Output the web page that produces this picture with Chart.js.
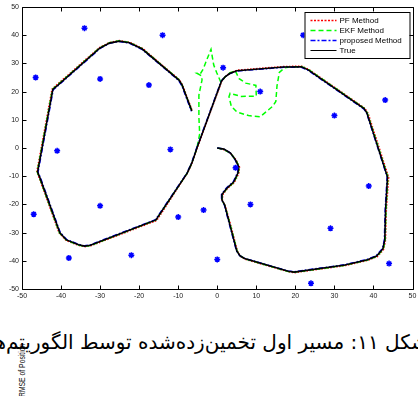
<!DOCTYPE html>
<html>
<head>
<meta charset="utf-8">
<script src="https://cdn.jsdelivr.net/npm/chart.js@4"></script>
<style>
  html, body { margin: 0; padding: 0; background: #fff; }
  body { position: relative; width: 418px; height: 396px; overflow: hidden; }
  #wrap { position: absolute; left: 0; top: 0; width: 418px; height: 300px; }
  #caption {
    position: absolute; right: -10px; top: 330px;
    direction: rtl; white-space: nowrap;
    font-family: "DejaVu Sans", sans-serif; font-size: 20px; color: #000;
  }
  #side {
    position: absolute; left: 17px; top: 397px;
    transform-origin: 0 0; transform: rotate(-90deg) scaleX(0.8);
    font-family: "Liberation Sans", Arial, sans-serif; font-size: 8.5px; line-height: 10px;
    white-space: nowrap; color: #111;
  }
</style>
</head>
<body>
<div id="wrap"><canvas id="c" width="418" height="300"></canvas></div>
<div id="side">RMSE of Position</div>
<div id="caption">شکل ۱۱: مسیر اول تخمین‌زده‌شده توسط الگوریتم‌ها</div>
<script>
// Axis tick values
const xTicks = [-50, -40, -30, -20, -10, 0, 10, 20, 30, 40, 50];
const yTicks = [-50, -40, -30, -20, -10, 0, 10, 20, 30, 40, 50];

// Landmark positions [x, y]
const landmarks = [
  [-46.5, 25], [-34, 42.5], [-30, 24.5], [-41, -1], [-47, -23.5], [-30, -20.5],
  [-38, -39], [-22, -38], [-14, 40], [-17.5, 22.3], [1.5, 28.5], [11, 20],
  [-12, -0.5], [4.7, -7], [8.5, -20], [-3.5, -22], [-10, -24.5], [0, -39.5],
  [43, 17], [30, 11.5], [38.8, -13.5], [29, -28.5], [44, -41], [24, -48], [22, 40]
];

// Ground-truth trajectory [x, y]
const truePath = [
  [0, 0], [1.7, -0.4], [3.4, -1.8], [4.7, -4.3], [5.5, -6.7], [5.3, -8.9], [4.2, -12.1],
  [2.5, -14.2], [1.2, -16.5], [1.2, -18.4], [1.9, -20.2], [2.9, -25.5], [5.0, -36.5],
  [5.8, -38.2], [7.0, -39.2], [18.2, -43.7], [19.7, -44.0], [32.7, -41.5], [38.5, -39.6],
  [40.8, -38.3], [42.4, -35.8], [42.9, -32.6], [43.1, -22.0], [43.6, -10.3], [39.3, 8.2],
  [38.3, 12.5], [37.6, 14.0], [23.3, 27.7], [21.5, 28.8], [17.0, 28.7], [5.0, 27.4],
  [3.2, 26.4], [2.0, 25.2], [1.1, 23.8], [-5.2, 0.0], [-6.5, -5.3], [-7.7, -8.9],
  [-15.7, -25.5], [-32.5, -34.5], [-34.0, -34.8], [-35.5, -34.3], [-38.6, -32.6],
  [-40.3, -30.1], [-45.4, -10.6], [-46.0, -8.5], [-42.1, 20.8], [-40.8, 22.3],
  [-30.1, 35.4], [-27.6, 37.2], [-25.1, 37.9], [-22.5, 37.3], [-19.2, 35.1],
  [-9.8, 24.1], [-9.0, 22.3], [-6.5, 13.1]
];

// Particle-filter estimate [x, y]
const pfPath = [
  [0, 0], [1.8, -0.6], [3.5, -2.0], [4.9, -4.4], [5.7, -6.8], [5.5, -9.0], [4.4, -12.2],
  [2.6, -14.4], [1.4, -16.6], [1.3, -18.6], [2.0, -20.4], [3.1, -25.6], [5.2, -36.7],
  [6.0, -38.5], [7.2, -39.5], [18.3, -43.9], [19.8, -44.2], [32.8, -41.7], [38.6, -39.8],
  [41.0, -38.5], [42.6, -36.0], [43.1, -32.7], [43.3, -22.1], [43.9, -10.4], [39.6, 8.1],
  [38.6, 12.4], [37.8, 14.1], [23.4, 27.9], [21.6, 29.0], [17.0, 28.9], [5.1, 27.6],
  [3.2, 26.6], [2.1, 25.3], [1.2, 23.9], [-5.1, 0.1], [-6.4, -5.2], [-7.6, -8.8],
  [-15.5, -25.7], [-32.4, -34.7], [-34.0, -35.0], [-35.6, -34.5], [-38.7, -32.8],
  [-40.5, -30.1], [-45.6, -10.6], [-46.2, -8.4], [-42.3, 20.9], [-41.0, 22.5],
  [-30.2, 35.6], [-27.6, 37.4], [-25.1, 38.1], [-22.4, 37.5], [-19.1, 35.3],
  [-9.7, 24.2], [-8.9, 22.4], [-6.4, 13.2]
];

// EKF estimate [x, y]
const ekfPath = [
  [0, 0], [1.7, -0.5], [3.4, -1.9], [4.8, -4.3], [5.6, -6.7], [5.4, -8.9], [4.3, -12.1],
  [2.5, -14.3], [1.3, -16.5], [1.2, -18.5], [1.9, -20.3], [3.0, -25.5], [5.1, -36.6],
  [5.9, -38.3], [7.1, -39.3], [18.2, -43.8], [19.7, -44.1], [32.7, -41.6], [38.5, -39.7],
  [40.9, -38.4], [42.5, -35.9], [43.0, -32.7], [43.2, -22.0], [43.7, -10.3], [39.4, 8.2],
  [38.4, 12.5], [37.7, 14.0], [23.4, 27.8], [21.5, 28.9], [18.5, 28.7], [17.2, 28.4],
  [15.9, 26.8], [15.3, 22.0], [15.0, 16.5], [14.2, 14.8], [11.0, 11.1], [8.0, 11.5],
  [5.0, 12.8], [3.6, 14.8], [3.0, 18.2], [3.3, 19.4], [6.0, 18.3], [10.0, 18.4],
  [9.9, 22.2], [7.3, 23.0], [5.6, 24.6], [4.6, 27.4], [3.2, 26.6], [2.0, 25.2],
  [0.9, 23.4], [-0.1, 26.6], [-0.9, 29.4], [-1.6, 35.0], [-1.9, 34.0], [-2.7, 31.2],
  [-3.6, 28.0], [-4.2, 26.6], [-5.2, 26.5], [-4.0, 25.6], [-3.9, 24.1], [-4.7, 18.8],
  [-4.7, 11.0], [-4.5, 5.0], [-5.2, 0.0], [-6.5, -5.3], [-7.7, -8.9], [-15.7, -25.5],
  [-32.5, -34.6], [-34.0, -34.9], [-35.5, -34.4], [-38.6, -32.7], [-40.4, -30.1],
  [-45.5, -10.6], [-46.1, -8.5], [-42.2, 20.8], [-40.9, 22.4], [-30.1, 35.5],
  [-27.6, 37.3], [-25.1, 38.0], [-22.5, 37.4], [-19.2, 35.2], [-9.8, 24.2],
  [-9.0, 22.3], [-6.5, 13.1]
];

// Proposed-method estimate [x, y]
const propPath = [
  [0, 0], [1.6, -0.3], [3.3, -1.7], [4.6, -4.2], [5.4, -6.6], [5.2, -8.8], [4.1, -12.0],
  [2.4, -14.1], [1.1, -16.4], [1.1, -18.3], [1.8, -20.1], [2.8, -25.4], [4.9, -36.4],
  [5.7, -38.1], [6.9, -39.1], [18.1, -43.6], [19.6, -43.9], [32.6, -41.4], [38.4, -39.5],
  [40.7, -38.2], [42.3, -35.7], [42.8, -32.5], [43.0, -21.9], [43.5, -10.2], [39.2, 8.3],
  [38.2, 12.6], [37.5, 13.9], [23.2, 27.6], [21.4, 28.7], [17.0, 28.6], [5.0, 27.3],
  [3.1, 26.3], [1.9, 25.1], [1.0, 23.7], [-5.3, -0.1], [-6.6, -5.4], [-7.8, -9.0],
  [-15.8, -25.4], [-32.6, -34.4], [-34.0, -34.7], [-35.4, -34.2], [-38.5, -32.5],
  [-40.2, -30.0], [-45.3, -10.5], [-45.9, -8.6], [-42.0, 20.7], [-40.7, 22.2],
  [-30.0, 35.3], [-27.6, 37.1], [-25.1, 37.8], [-22.6, 37.2], [-19.3, 35.0],
  [-9.9, 24.0], [-9.1, 22.2], [-6.6, 13.0]
];

const toPoints = arr => arr.map(([x, y]) => ({ x, y }));

// Legend box drawn inside the plot, upper-right corner
const boxLegend = {
  id: 'boxLegend',
  afterDatasetsDraw(chart) {
    const { ctx, chartArea: a } = chart;
    const items = chart.data.datasets.filter(d => d.inLegend);
    items.sort((p, q) => p.legendRank - q.legendRank);
    const bx = a.right - 108, by = a.top + 5, bw = 105, bh = 46;
    ctx.save();
    ctx.fillStyle = '#fff';
    ctx.fillRect(bx, by, bw, bh);
    ctx.strokeStyle = '#000';
    ctx.lineWidth = 1;
    ctx.setLineDash([]);
    ctx.strokeRect(bx + 0.5, by + 0.5, bw, bh);
    ctx.font = '8px "Liberation Sans", Arial, sans-serif';
    ctx.textBaseline = 'middle';
    items.forEach((d, i) => {
      const yy = Math.round(by + 7.5 + i * 10.3) + 0.5;
      ctx.strokeStyle = d.borderColor;
      ctx.lineWidth = d.label === 'True' ? 1 : 1.5;
      ctx.setLineDash(d.legendDash || []);
      ctx.beginPath();
      ctx.moveTo(bx + 6, yy);
      ctx.lineTo(bx + 32, yy);
      ctx.stroke();
      ctx.setLineDash([]);
      ctx.fillStyle = '#000';
      ctx.fillText(d.label, bx + 35, yy);
    });
    ctx.restore();
  }
};

// Box frame with inward tick marks on all four sides
const boxFrame = {
  id: 'boxFrame',
  afterDraw(chart) {
    const { ctx, chartArea: a, scales: { x, y } } = chart;
    const L = Math.round(a.left) + 0.5, R = Math.round(a.right) + 0.5;
    const T = Math.round(a.top) + 0.5, B = Math.round(a.bottom) + 0.5;
    ctx.save();
    ctx.strokeStyle = '#000';
    ctx.lineWidth = 1;
    ctx.setLineDash([]);
    ctx.beginPath();
    ctx.rect(L, T, R - L, B - T);
    const tl = 4;
    x.ticks.forEach(t => {
      const px = Math.round(x.getPixelForValue(t.value)) + 0.5;
      ctx.moveTo(px, B); ctx.lineTo(px, B - tl);
      ctx.moveTo(px, T); ctx.lineTo(px, T + tl);
    });
    y.ticks.forEach(t => {
      const py = Math.round(y.getPixelForValue(t.value)) + 0.5;
      ctx.moveTo(L, py); ctx.lineTo(L + tl, py);
      ctx.moveTo(R, py); ctx.lineTo(R - tl, py);
    });
    ctx.stroke();
    ctx.restore();
  }
};

Chart.defaults.font.family = '"Liberation Sans", Arial, sans-serif';

const lineBase = { showLine: true, pointRadius: 0, pointHoverRadius: 0, tension: 0, fill: false, inLegend: true };

new Chart(document.getElementById('c'), {
  type: 'scatter',
  data: {
    datasets: [
      {
        label: 'landmarks', data: toPoints(landmarks), showLine: false,
        pointStyle: 'star', pointRadius: 3, borderWidth: 1.5,
        borderColor: '#0000ff', backgroundColor: '#0000ff', order: -1, inLegend: false
      },
      Object.assign({}, lineBase, {
        label: 'True', data: toPoints(truePath), borderColor: '#000000',
        borderWidth: 1.6, order: 0, legendRank: 3
      }),
      Object.assign({}, lineBase, {
        label: 'proposed Method', data: toPoints(propPath), borderColor: '#0000ff',
        borderWidth: 1.5, borderDash: [5, 2, 1.5, 2], legendDash: [5, 2, 2, 2], order: 1, legendRank: 2
      }),
      Object.assign({}, lineBase, {
        label: 'EKF Method', data: toPoints(ekfPath), borderColor: '#00ff00',
        borderWidth: 1.5, borderDash: [5, 3], legendDash: [5, 3], order: 2, legendRank: 1
      }),
      Object.assign({}, lineBase, {
        label: 'PF Method', data: toPoints(pfPath), borderColor: '#ff0000',
        borderWidth: 1.5, borderDash: [1.5, 1.5], legendDash: [2, 1.5], order: 3, legendRank: 0
      })
    ]
  },
  options: {
    responsive: false,
    animation: false,
    events: [],
    layout: { padding: { top: 7, right: 3, left: 0, bottom: 0 } },
    plugins: { legend: { display: false }, tooltip: { enabled: false } },
    scales: {
      x: {
        type: 'linear', min: -50, max: 50,
        grid: { display: false, drawTicks: false },
        border: { display: false },
        afterBuildTicks: s => { s.ticks = xTicks.map(v => ({ value: v })); },
        afterFit: s => { s.height = 11; s.paddingLeft = 0; s.paddingRight = 0; },
        ticks: { autoSkip: false, maxRotation: 0, padding: 3, color: '#222', font: { size: 7 } }
      },
      y: {
        type: 'linear', min: -50, max: 50,
        grid: { display: false, drawTicks: false },
        border: { display: false },
        afterBuildTicks: s => { s.ticks = yTicks.map(v => ({ value: v })); },
        afterFit: s => { s.width = 22; s.paddingTop = 0; s.paddingBottom = 0; },
        ticks: { autoSkip: false, padding: 3, color: '#222', font: { size: 7 } }
      }
    }
  },
  plugins: [boxLegend, boxFrame]
});
</script>
</body>
</html>
